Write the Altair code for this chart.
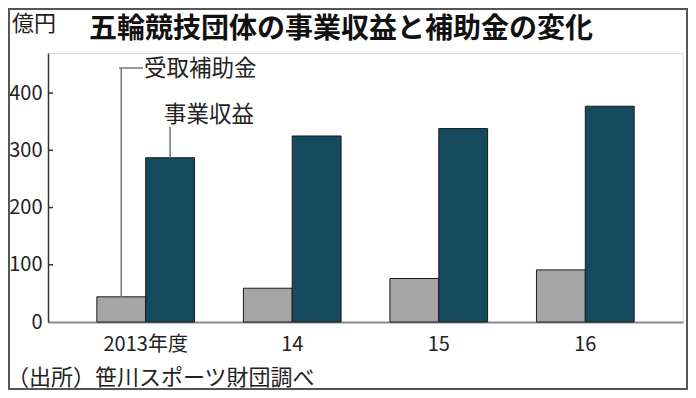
import altair as alt
import pandas as pd

years = ["2013年度", "14", "15", "16"]
series = ["受取補助金", "事業収益"]
subsidy = [44, 59, 76, 91]
revenue = [287, 325, 338, 377]
y_ticks = [0, 100, 200, 300, 400]

df = pd.DataFrame({
    "year": years * 2,
    "series": [series[0]] * len(years) + [series[1]] * len(years),
    "value": subsidy + revenue,
})
tick_df = pd.DataFrame({"v": y_ticks[1:]})
one = pd.DataFrame({"k": [0]})

FONT = "Noto Sans CJK JP"

x_enc = alt.X("year:N", sort=years,
              scale=alt.Scale(paddingInner=1/3, paddingOuter=1/3),
              axis=alt.Axis(title=None, labelAngle=0, ticks=False, domainColor="#8a8a8a",
                            domainWidth=2, labelFontSize=20, labelPadding=12,
                            labelColor="#222", labelFont=FONT))
xo_enc = alt.XOffset("series:N", sort=series, scale=alt.Scale(paddingInner=0, paddingOuter=0))
y_scale = alt.Scale(domain=[0, 470], nice=False)

bars = alt.Chart(df).mark_bar(stroke="#1a1a1a", strokeWidth=1).encode(
    x=x_enc,
    xOffset=xo_enc,
    y=alt.Y("value:Q", scale=y_scale,
            axis=alt.Axis(values=y_ticks, title=None, ticks=False, grid=False,
                          domainColor="#333", domainWidth=1.5, labelPadding=6,
                          labelFontSize=20, labelColor="#222", labelFont=FONT)),
    color=alt.Color("series:N", scale=alt.Scale(domain=series, range=["#a5a5a5", "#164b5f"]),
                    legend=None),
)

lead1 = alt.Chart(df).transform_filter(
    (alt.datum.year == years[0]) & (alt.datum.series == series[0])
).mark_rule(color="#777", strokeWidth=1.5).encode(
    x=alt.X("year:N", sort=years), xOffset=alt.XOffset("series:N", sort=series),
    y=alt.Y("value:Q", scale=y_scale), y2=alt.value(15))

lead2 = alt.Chart(df).transform_filter(
    (alt.datum.year == years[0]) & (alt.datum.series == series[1])
).mark_rule(color="#777", strokeWidth=1.5).encode(
    x=alt.X("year:N", sort=years), xOffset=alt.XOffset("series:N", sort=series),
    y=alt.Y("value:Q", scale=y_scale), y2=alt.value(74))

lead_h = alt.Chart(one).mark_rule(color="#777", strokeWidth=1.5).encode(
    x=alt.value(71), x2=alt.value(95), y=alt.value(15))

ticks = alt.Chart(tick_df).mark_rule(color="#333", strokeWidth=1.5).encode(
    x=alt.value(0), x2=alt.value(5), y=alt.Y("v:Q", scale=y_scale))

def label(text, x, y, size, weight="normal", color="#222"):
    return alt.Chart(one).mark_text(align="left", baseline="middle", fontSize=size,
                                    fontWeight=weight, font=FONT, color=color).encode(
        x=alt.value(x), y=alt.value(y), text=alt.value(text))

t_sub = label("受取補助金", 96, 16, 22.5)
t_rev = label("事業収益", 116, 62, 22.5)
t_title = label("五輪競技団体の事業収益と補助金の変化", 41, -23, 28, "bold", "#111")
t_unit = label("億円", -36, -29, 22)
t_src = label("（出所）笹川スポーツ財団調べ", -41, 325, 22)

frame = alt.Chart(one).mark_rect(fill=None, stroke="#555", strokeWidth=2).encode(
    x=alt.value(-39), x2=alt.value(639), y=alt.value(-44), y2=alt.value(336))

chart = alt.layer(bars, lead1, lead2, lead_h, ticks, t_sub, t_rev, t_title, t_unit, t_src, frame).properties(
    width=635, height=269,
    autosize=alt.AutoSizeParams(type="none"),
    padding={"left": 40, "top": 45, "right": 5, "bottom": 68},
    background="white",
).configure_view(stroke=None).configure(font=FONT)

chart.save("out.html", embed_options={"renderer": "svg", "actions": False})
